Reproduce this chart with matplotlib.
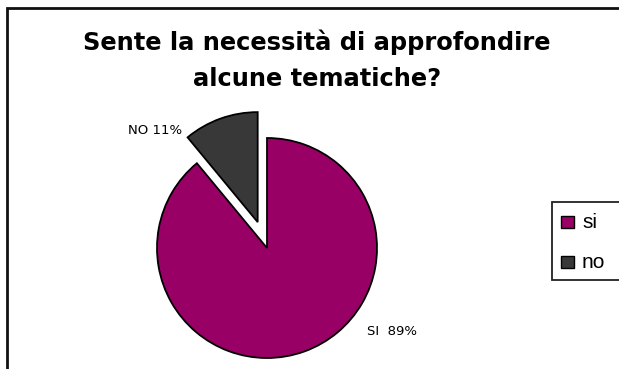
import matplotlib
matplotlib.use("Agg")
import matplotlib.pyplot as plt
from matplotlib.patches import Rectangle

title_lines = ["Sente la necessità di approfondire", "alcune tematiche?"]
categories = ["no", "si"]
values = [11, 89]
label_texts = ["NO 11%", "SI  89%"]
colors = {"si": "#990066", "no": "#383838"}
legend_order = ["si", "no"]

W, H = 619, 369
fig = plt.figure(figsize=(W / 100, H / 100), dpi=100)
fig.patch.set_facecolor("white")


def fx(px):
    return px / W


def fy(py):
    return 1 - py / H


# outer chart border (extends past right/bottom edges)
fig.patches.append(Rectangle((fx(7), -0.1), 1.2, fy(8) + 0.1, transform=fig.transFigure,
                             fill=False, edgecolor="#111111", lw=2.0))

for line, base in zip(title_lines, [50, 86]):
    fig.text(fx(317), fy(base), line, ha="center", va="baseline", fontsize=17.4,
             fontweight="bold", family="DejaVu Sans")

cx, cy, r = 267, 248, 110
k = 1.6
half = r * k
ax = fig.add_axes([fx(cx - half), fy(cy + half), 2 * half / W, 2 * half / H])
ax.pie(values, colors=[colors[c] for c in categories], startangle=90, counterclock=True,
       explode=[0.25, 0], radius=1.0,
       wedgeprops=dict(edgecolor="black", linewidth=1.3))
ax.set_xlim(-k, k)
ax.set_ylim(-k, k)
ax.set_aspect("equal")
ax.axis("off")

ax.text(-1.02, 1.07, label_texts[0], ha="center", va="center", fontsize=9.5, family="DejaVu Sans")
ax.text(1.14, -0.76, label_texts[1], ha="center", va="center", fontsize=9.5, family="DejaVu Sans")

# legend box (extends past right edge as in the original)
fig.patches.append(Rectangle((fx(552), fy(280)), fx(100), (280 - 202) / H, transform=fig.transFigure,
                             fill=True, facecolor="white", edgecolor="#222222", lw=1.3))
for i, name in enumerate(legend_order):
    yc = 222 + 40 * i
    fig.patches.append(Rectangle((fx(561), fy(yc + 6)), 13 / W, 12 / H, transform=fig.transFigure,
                                 facecolor=colors[name], edgecolor="black", lw=1.0))
    fig.text(fx(582), fy(yc), name, ha="left", va="center", fontsize=15,
             family="Liberation Sans")

fig.savefig("out.png", dpi=100)
